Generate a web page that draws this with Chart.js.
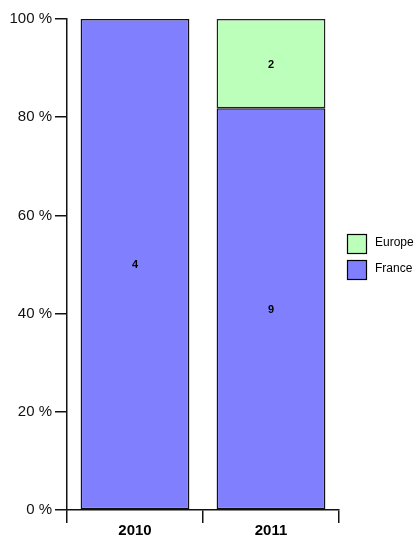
<!DOCTYPE html>
<html>
<head>
<meta charset="utf-8">
<script src="https://cdn.jsdelivr.net/npm/chart.js@4/dist/chart.umd.min.js"></script>
<style>
  html, body { margin: 0; padding: 0; background: #fff; }
  #wrap { width: 420px; height: 537px; }
</style>
</head>
<body>
<div id="wrap"><canvas id="chart" width="420" height="537"></canvas></div>
<script>
// chart data
const years = ["2010", "2011"];
const franceCounts = [4, 9];
const europeCounts = [0, 2];
const yTicks = [0, 20, 40, 60, 80, 100];

// share of each year in percent
const totals = years.map((y, i) => franceCounts[i] + europeCounts[i]);
const pct = (arr) => arr.map((v, i) => v / totals[i] * 100);

const barLabels = {
  id: "barLabels",
  afterDatasetsDraw(chart) {
    const ctx = chart.ctx;
    ctx.save();
    ctx.font = "bold 11px 'Liberation Sans', Arial, sans-serif";
    ctx.fillStyle = "#000";
    ctx.textAlign = "center";
    ctx.textBaseline = "middle";
    chart.data.datasets.forEach((ds, di) => {
      chart.getDatasetMeta(di).data.forEach((bar, i) => {
        const count = ds.counts[i];
        if (!count) return;
        ctx.fillText(String(count), bar.x, (bar.y + bar.base) / 2 + 1);
      });
    });
    ctx.restore();
  }
};

// legend on the right, drawn by hand
const sideLegend = {
  id: "sideLegend",
  afterDraw(chart) {
    const ctx = chart.ctx;
    const items = chart.data.datasets.slice().reverse();
    const x = chart.chartArea.right + 8;
    let y = 234;
    ctx.save();
    ctx.font = "12px 'Liberation Sans', Arial, sans-serif";
    ctx.textBaseline = "middle";
    items.forEach(ds => {
      ctx.fillStyle = ds.backgroundColor;
      ctx.fillRect(x + 0.5, y + 0.5, 19, 19);
      ctx.strokeStyle = "#000";
      ctx.lineWidth = 1.2;
      ctx.strokeRect(x + 0.5, y + 0.5, 19, 19);
      ctx.fillStyle = "#000";
      ctx.fillText(ds.label, x + 28, y + 9);
      y += 26;
    });
    ctx.restore();
  }
};

new Chart(document.getElementById("chart"), {
  type: "bar",
  data: {
    labels: years,
    datasets: [
      {
        label: "France",
        data: pct(franceCounts),
        counts: franceCounts,
        backgroundColor: "#8080ff",
        borderColor: "#111",
        borderWidth: 1.5,
        borderSkipped: false
      },
      {
        label: "Europe",
        data: pct(europeCounts),
        counts: europeCounts,
        backgroundColor: "#bbffbb",
        borderColor: "#222",
        borderWidth: 1.5,
        borderSkipped: false
      }
    ]
  },
  options: {
    responsive: false,
    animation: false,
    layout: { padding: { top: 19, right: 81, left: 0, bottom: 0 } },
    plugins: {
      legend: { display: false },
      tooltip: { enabled: false }
    },
    datasets: { bar: { barPercentage: 0.8, categoryPercentage: 1 } },
    scales: {
      x: {
        stacked: true,
        afterFit(scale) { scale.height = 27; },
        border: { color: "#111", width: 1.5 },
        grid: { offset: true, drawOnChartArea: false, tickLength: 13, color: "#111", lineWidth: 1.5 },
        ticks: {
          padding: -1,
          color: "#000",
          font: { family: "'Liberation Sans', Arial, sans-serif", size: 15, weight: "bold" }
        }
      },
      y: {
        stacked: true,
        min: 0,
        max: 100,
        afterFit(scale) { scale.width = 67; },
        afterBuildTicks(scale) { scale.ticks = yTicks.map(v => ({ value: v })); },
        border: { color: "#111", width: 1.5 },
        grid: { drawOnChartArea: false, tickLength: 12, color: "#111", lineWidth: 1.5 },
        ticks: {
          padding: 3,
          color: "#111",
          font: { family: "'Liberation Sans', Arial, sans-serif", size: 15 },
          callback: v => v + " %"
        }
      }
    }
  },
  plugins: [barLabels, sideLegend]
});
</script>
</body>
</html>
